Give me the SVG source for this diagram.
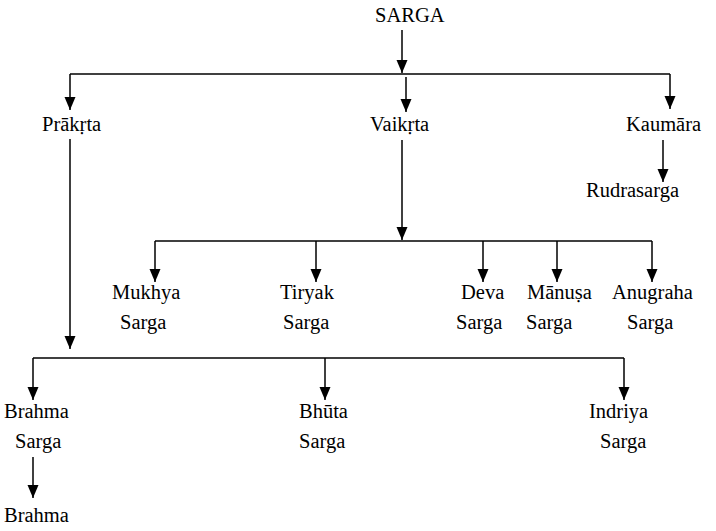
<svg xmlns="http://www.w3.org/2000/svg" width="716" height="531" viewBox="0 0 716 531" font-family="Liberation Serif, DejaVu Serif, serif">
<style>
text { font-family: "Liberation Serif", "DejaVu Serif", serif; font-size: 20.5px; fill: #000; }
.c path { fill: none; stroke: #000; stroke-width: 1.5; }
</style>
<defs>
<marker id="a" markerUnits="userSpaceOnUse" markerWidth="12" markerHeight="14" viewBox="-6 -13 12 14" refX="0" refY="0" orient="0">
<path d="M-5.5,-13 L5.5,-13 L0,0 Z" fill="#000"/>
</marker>
</defs>
<rect width="716" height="531" fill="#fff"/>
<g class="c" id="connectors">
<path d="M402,30 V73" marker-end="url(#a)"/>
<path d="M70,74 H670"/>
<path d="M70,74 V110" marker-end="url(#a)"/>
<path d="M406,77 V112" marker-end="url(#a)"/>
<path d="M670,74 V109" marker-end="url(#a)"/>
<path d="M663,140 V182" marker-end="url(#a)"/>
<path d="M402,140 V240" marker-end="url(#a)"/>
<path d="M155,241 H652"/>
<path d="M155,241 V282" marker-end="url(#a)"/>
<path d="M316,241 V282" marker-end="url(#a)"/>
<path d="M483,241 V282" marker-end="url(#a)"/>
<path d="M557,241 V282" marker-end="url(#a)"/>
<path d="M652,241 V282" marker-end="url(#a)"/>
<path d="M70,139 V349" marker-end="url(#a)"/>
<path d="M33,358 H624"/>
<path d="M33,358 V400" marker-end="url(#a)"/>
<path d="M325,358 V400" marker-end="url(#a)"/>
<path d="M624,358 V400" marker-end="url(#a)"/>
<path d="M33,457 V498" marker-end="url(#a)"/>
</g>
<g id="sarga"><text x="375" y="22" style="font-family:'Liberation Serif',serif">SARGA</text></g>
<g id="prakrta"><text x="42" y="131">Prākṛta</text></g>
<g id="vaikrta"><text x="370" y="131">Vaikṛta</text></g>
<g id="kaumara"><text x="626" y="131">Kaumāra</text></g>
<g id="rudrasarga"><text x="586" y="197">Rudrasarga</text></g>
<g id="mukhya"><text x="112" y="299">Mukhya</text><text x="120" y="329">Sarga</text></g>
<g id="tiryak"><text x="280" y="299">Tiryak</text><text x="283" y="329">Sarga</text></g>
<g id="deva"><text x="461" y="299">Deva</text><text x="456" y="329">Sarga</text></g>
<g id="manusa"><text x="527" y="299">Mānuṣa</text><text x="526" y="329">Sarga</text></g>
<g id="anugraha"><text x="612" y="299">Anugraha</text><text x="627" y="329">Sarga</text></g>
<g id="brahmasarga"><text x="4" y="418">Brahma</text><text x="15" y="448">Sarga</text></g>
<g id="bhutasarga"><text x="299" y="418">Bhūta</text><text x="299" y="448">Sarga</text></g>
<g id="indriyasarga"><text x="589" y="418">Indriya</text><text x="600" y="448">Sarga</text></g>
<g id="brahma"><text x="4" y="522">Brahma</text></g>
</svg>
